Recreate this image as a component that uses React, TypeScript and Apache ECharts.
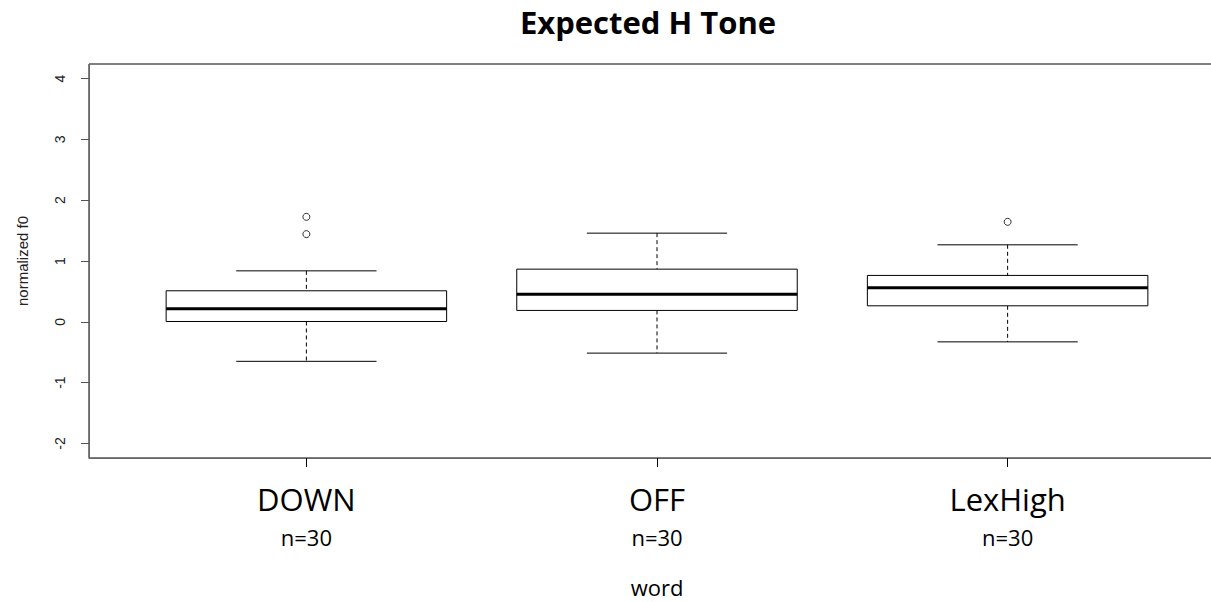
import React, { useEffect, useRef } from "react";
import * as echarts from "echarts";

const categories = ["DOWN", "OFF", "LexHigh"];
const counts = [30, 30, 30];
const positions = [1, 2, 3];
const lowWhisker = [-0.65, -0.515, -0.33];
const q1 = [0.005, 0.187, 0.263];
const median = [0.214, 0.455, 0.559];
const q3 = [0.51, 0.866, 0.763];
const highWhisker = [0.838, 1.458, 1.266];
const outlierGroup = [1, 1, 3];
const outlierValue = [1.726, 1.442, 1.644];
const yTicks = [-2, -1, 0, 1, 2, 3, 4];

export default function App() {
  const ref = useRef<HTMLDivElement>(null);
  useEffect(() => {
    if (!ref.current) return;
    const chart = echarts.init(ref.current, null, { renderer: "svg" });
    const boxData = positions.map((p, i) => [p, lowWhisker[i], q1[i], median[i], q3[i], highWhisker[i]]);
    const outData = outlierGroup.map((g, i) => [g, outlierValue[i]]);
    const option: any = {
      animation: false,
      backgroundColor: "#fff",
      title: {
        text: "Expected H Tone",
        left: 643,
        top: 1,
        textAlign: "center",
        textStyle: { fontFamily: "Open Sans", fontWeight: "bold", fontSize: 31, color: "#000" },
      },
      grid: {
        left: 89,
        top: 64,
        right: 15,
        bottom: 144,
        show: true,
        outerBoundsMode: "none",
        containLabel: false,
        borderColor: "#000",
        borderWidth: 1,
        backgroundColor: "transparent",
      },
      xAxis: {
        type: "value",
        min: 0.38,
        max: 3.62,
        name: "word",
        nameLocation: "middle",
        nameGap: 118,
        nameTextStyle: { fontFamily: "Open Sans", fontSize: 22, color: "#000" },
        axisLine: { show: true, onZero: false, lineStyle: { color: "#666", width: 1 } },
        axisTick: { show: true, length: 9, customValues: positions, lineStyle: { color: "#000" } },
        axisLabel: {
          show: true,
          customValues: positions,
          margin: 21,
          formatter: (v: number) => {
            const i = positions.indexOf(Math.round(v));
            return i < 0 ? "" : `{a|${categories[i]}}\n{b|n=${counts[i]}}`;
          },
          rich: {
            a: { fontFamily: "Open Sans", fontSize: 31, color: "#000", lineHeight: 40 },
            b: { fontFamily: "Open Sans", fontSize: 22, color: "#000", lineHeight: 36 },
          },
        },
        splitLine: { show: false },
      },
      yAxis: {
        type: "value",
        min: -2.24,
        max: 4.24,
        name: "normalized f0",
        nameLocation: "middle",
        nameRotate: 90,
        nameGap: 59,
        nameTextStyle: { fontFamily: "Liberation Sans", fontSize: 15, color: "#222" },
        axisLine: { show: true, onZero: false, lineStyle: { color: "#666", width: 1 } },
        axisTick: { show: true, length: 8, customValues: yTicks, lineStyle: { color: "#555" } },
        axisLabel: {
          show: true,
          customValues: yTicks,
          rotate: 90,
          margin: 22,
          fontFamily: "Liberation Sans",
          fontSize: 14,
          color: "#222",
          formatter: (v: number) => String(Math.round(v)),
        },
        splitLine: { show: false },
      },
      series: [
        {
          type: "custom",
          data: boxData,
          renderItem: (params: any, api: any) => {
            const x = api.value(0);
            const lo = api.value(1);
            const b1 = api.value(2);
            const md = api.value(3);
            const b3 = api.value(4);
            const hi = api.value(5);
            const lt = api.coord([x - 0.4, b3]);
            const rb = api.coord([x + 0.4, b1]);
            const mL = api.coord([x - 0.4, md]);
            const mR = api.coord([x + 0.4, md]);
            const cHi = api.coord([x, hi]);
            const cLo = api.coord([x, lo]);
            const cQ3 = api.coord([x, b3]);
            const cQ1 = api.coord([x, b1]);
            const capL = api.coord([x - 0.2, hi]);
            const capR = api.coord([x + 0.2, hi]);
            const capL2 = api.coord([x - 0.2, lo]);
            const capR2 = api.coord([x + 0.2, lo]);
            const dash = { stroke: "#000", lineWidth: 1, lineDash: [4, 3] };
            const solid = { stroke: "#000", lineWidth: 1 };
            return {
              type: "group",
              children: [
                { type: "line", shape: { x1: cHi[0], y1: cHi[1], x2: cQ3[0], y2: cQ3[1] }, style: dash },
                { type: "line", shape: { x1: cQ1[0], y1: cQ1[1], x2: cLo[0], y2: cLo[1] }, style: dash },
                { type: "line", shape: { x1: capL[0], y1: capL[1], x2: capR[0], y2: capR[1] }, style: solid },
                { type: "line", shape: { x1: capL2[0], y1: capL2[1], x2: capR2[0], y2: capR2[1] }, style: solid },
                {
                  type: "rect",
                  shape: { x: lt[0], y: lt[1], width: rb[0] - lt[0], height: rb[1] - lt[1] },
                  style: { fill: "#fff", stroke: "#000", lineWidth: 1 },
                },
                { type: "line", shape: { x1: mL[0], y1: mL[1], x2: mR[0], y2: mR[1] }, style: { stroke: "#000", lineWidth: 3 } },
              ],
            };
          },
        },
        {
          type: "scatter",
          data: outData,
          symbol: "circle",
          symbolSize: 7,
          itemStyle: { color: "#fff", borderColor: "#000", borderWidth: 1 },
        },
      ],
    };
    chart.setOption(option);
    return () => chart.dispose();
  }, []);
  return (
    <div
      ref={ref}
      style={{ position: "fixed", left: 0, top: 0, width: 1240, height: 602, background: "#fff" }}
    />
  );
}
